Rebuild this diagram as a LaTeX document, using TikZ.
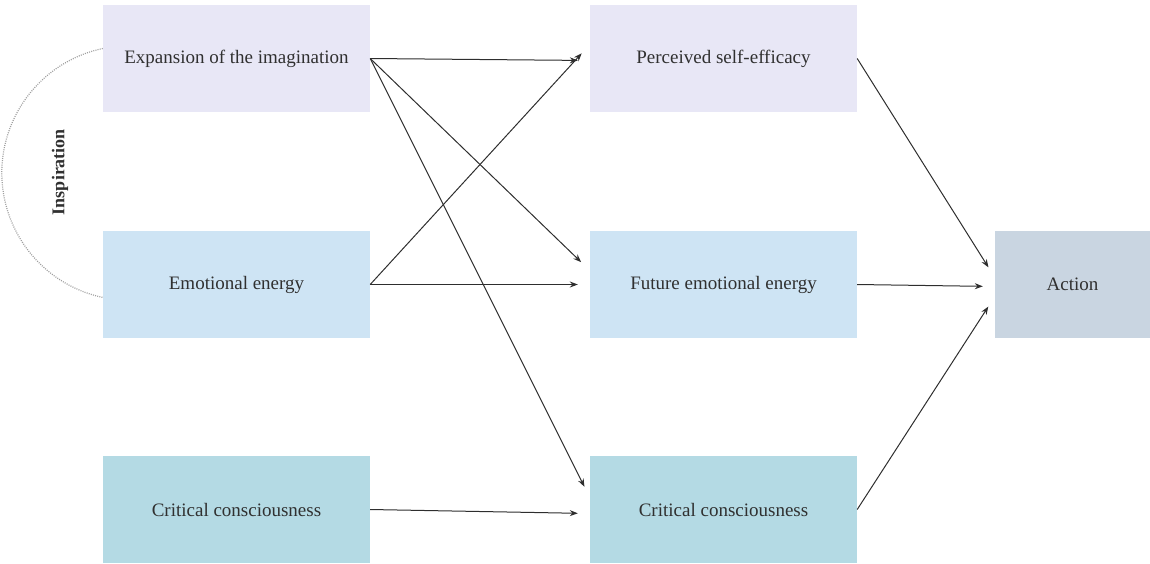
\documentclass[tikz,border=0pt]{standalone}
\usepackage{fontspec}
\setmainfont{Liberation Serif}
\usetikzlibrary{arrows.meta}
\definecolor{lav}{HTML}{E8E7F6}
\definecolor{sky}{HTML}{CEE4F4}
\definecolor{teal}{HTML}{B4DAE4}
\definecolor{slate}{HTML}{C9D5E1}
\definecolor{ink}{HTML}{303030}
\definecolor{linec}{HTML}{2E2E2E}
\tikzset{
  box/.style={minimum width=267pt, minimum height=107pt, inner sep=0pt,
    font=\fontsize{19}{21}\selectfont, text=ink},
  link/.style={draw=linec, line width=1pt, -{Stealth[length=8pt,width=6pt]}, shorten >=12pt},
}
\begin{document}
\begin{tikzpicture}[x=1pt,y=-1pt]
  \useasboundingbox (0,0) rectangle (1150,563);
  % left column
  \node[box, fill=lav]   (a1) at (236.5,58.5)  {Expansion of the imagination};
  \node[box, fill=sky]   (a2) at (236.5,284.5) {Emotional energy};
  \node[box, fill=teal]  (a3) at (236.5,509.5) {Critical consciousness};
  % middle column
  \node[box, fill=lav]   (b1) at (723.5,58.5)  {Perceived self-efficacy};
  \node[box, fill=sky]   (b2) at (723.5,284.5) {Future emotional energy};
  \node[box, fill=teal]  (b3) at (723.5,509.5) {Critical consciousness};
  % outcome
  \node[box, fill=slate, minimum width=155pt] (c) at (1072.5,284.5) {Action};
  % inspiration loop
  \coordinate (i1) at ([yshift=10pt]a1.west);
  \draw[gray!75, line width=1.2pt, dash pattern=on 1pt off 1.2pt] (i1) arc[start angle=258.1, end angle=101.9, radius=127.2];
  \node[rotate=90, font=\bfseries\fontsize{18}{20}\selectfont, text=ink] (insp) at (60,172) {Inspiration};
  % paths
  \draw[link] (a1.east) -- ([yshift=-2pt]b1.west);
  \draw[link] (a1.east) -- ([yshift=14pt]b2.west);
  \draw[link] (a1.east) -- ([yshift=12pt]b3.west);
  \draw[link] (a2.east) -- ([yshift=14pt]b1.west);
  \draw[link] (a2.east) -- (b2.west);
  \draw[link] (a3.east) -- ([yshift=-4pt]b3.west);
  \draw[link] (b1.east) -- ([yshift=7pt]c.west);
  \draw[link] (b2.east) -- ([yshift=-2pt]c.west);
  \draw[link] (b3.east) -- ([yshift=-12pt]c.west);
\end{tikzpicture}
\end{document}
